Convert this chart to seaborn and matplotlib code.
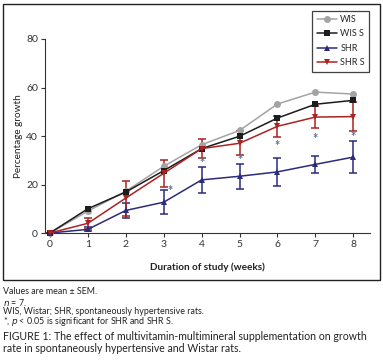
import matplotlib
matplotlib.use("Agg")
import matplotlib.pyplot as plt
import seaborn as sns
import pandas as pd
import numpy as np
from matplotlib.patches import Rectangle

weeks = [0, 1, 2, 3, 4, 5, 6, 7, 8]
groups = ["WIS", "WIS S", "SHR", "SHR S"]

wis = [0, 9.0, 17.2, 27.5, 36.4, 42.3, 53.2, 58.1, 57.3]
wis_s = [0, 10.0, 16.9, 25.7, 34.8, 39.9, 47.4, 53.1, 54.7]
shr = [0, 1.5, 9.3, 12.7, 21.9, 23.4, 25.2, 28.3, 31.3]
shr_s = [0, 4.0, 14.4, 24.6, 34.8, 37.0, 44.0, 47.8, 48.0]

shr_sem = [0, 0.8, 3.2, 5.0, 5.4, 5.2, 5.7, 3.6, 6.5]
shr_s_sem = [0, 2.3, 7.2, 5.6, 3.8, 5.0, 4.4, 4.5, 6.0]

# asterisks (p < 0.05)
star_x = [3.17, 4, 5, 6, 7, 8]
star_y = [17.5, 28.7, 30.1, 36.0, 38.8, 39.7]

colors = {"WIS": "#a3a3a3", "WIS S": "#1c1c1c", "SHR": "#2b2b7c", "SHR S": "#ab2222"}
markers = {"WIS": "o", "WIS S": "s", "SHR": "^", "SHR S": "v"}

df = pd.DataFrame({
    "week": weeks * 4,
    "growth": wis + wis_s + shr + shr_s,
    "group": [g for g in groups for _ in weeks],
})

sns.set_style("white")
plt.rcParams["font.family"] = ["Lato", "DejaVu Sans"]

fig = plt.figure(figsize=(3.83, 3.63), dpi=100)
ax = fig.add_axes([45 / 383, 1 - 233 / 363, 325 / 383, 194 / 363])

# error bars first so lines sit on top
ax.errorbar(weeks, shr, yerr=shr_sem, fmt="none", ecolor=colors["SHR"],
            elinewidth=1.1, capsize=3, capthick=1.1, clip_on=False, zorder=2)
ax.errorbar(weeks, shr_s, yerr=shr_s_sem, fmt="none", ecolor=colors["SHR S"],
            elinewidth=1.1, capsize=3, capthick=1.1, clip_on=False, zorder=2)

sns.lineplot(data=df, x="week", y="growth", hue="group", style="group",
             hue_order=groups, style_order=groups, palette=colors,
             markers=markers, dashes=False, markersize=5, linewidth=1.1,
             markeredgewidth=0, ax=ax, legend=True, zorder=3, clip_on=False)

for sx, sy in zip(star_x, star_y):
    ax.text(sx, sy, "*", ha="center", va="center", fontsize=9,
            color="#5f6f92", fontweight="bold")

ax.set_xlim(-0.13, 8.44)
ax.set_ylim(0, 80)
ax.set_xticks(weeks)
ax.set_yticks([0, 20, 40, 60, 80])
ax.tick_params(axis="both", direction="out", length=3, width=0.8,
               labelsize=7.5, colors="#333333", pad=2, left=True, bottom=True)
for side in ["top", "right"]:
    ax.spines[side].set_visible(False)
for side in ["left", "bottom"]:
    ax.spines[side].set_color("#333333")
    ax.spines[side].set_linewidth(0.8)

ax.set_xlabel("Duration of study (weeks)", fontsize=7.2, fontweight="bold",
              color="#222222", labelpad=10)
ax.set_ylabel("Percentage growth", fontsize=7.2, color="#222222", labelpad=2)

handles, labels = ax.get_legend_handles_labels()
ax.get_legend().remove()
leg = fig.legend(handles, labels, loc="upper right",
                 bbox_to_anchor=(374 / 383, 1 - 6 / 363), fontsize=6.5,
                 frameon=True, fancybox=False, edgecolor="#111111",
                 handlelength=2.2, handletextpad=0.4, borderpad=0.5,
                 labelspacing=0.6)
leg.get_frame().set_linewidth(0.9)

# frame around chart panel
fig.patches.append(Rectangle((3 / 383, 1 - 280 / 363), 377 / 383, 276 / 363,
                             transform=fig.transFigure, fill=False,
                             edgecolor="#222222", linewidth=1.0))

notes = [
    ("Values are mean \u00b1 SEM.", 292),
    ("$n$ = 7.", 302),
    ("WIS, Wistar; SHR, spontaneously hypertensive rats.", 312),
    ("*, $p$ < 0.05 is significant for SHR and SHR S.", 322),
]
for txt, yp in notes:
    fig.text(3 / 383, 1 - yp / 363, txt, fontsize=6.4, color="#222222",
             va="center", ha="left")

fig.text(3 / 383, 1 - 337 / 363,
         "FIGURE 1: The effect of multivitamin-multimineral supplementation on growth",
         fontsize=7.6, color="#222222", va="center", ha="left")
fig.text(3 / 383, 1 - 349 / 363,
         "rate in spontaneously hypertensive and Wistar rats.",
         fontsize=7.6, color="#222222", va="center", ha="left")

fig.savefig("out.png", dpi=100)
